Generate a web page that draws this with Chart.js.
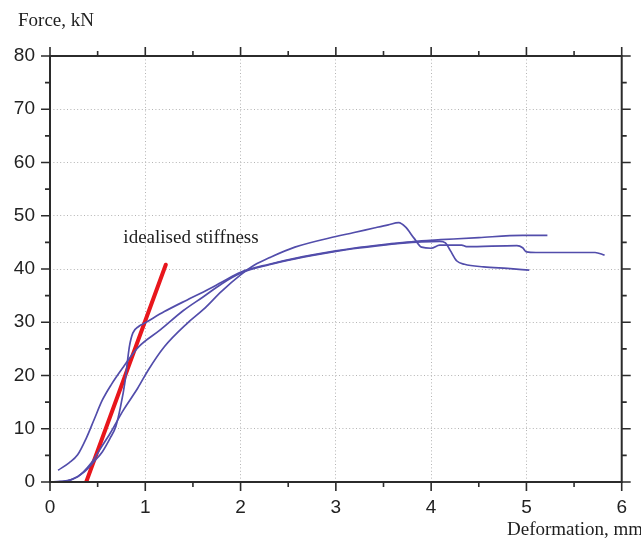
<!DOCTYPE html>
<html>
<head>
<meta charset="utf-8">
<title>Force vs deformation</title>
<script src="https://cdn.jsdelivr.net/npm/chart.js@4.4.1/dist/chart.umd.min.js"></script>
<style>
  html, body { margin: 0; padding: 0; background: #fff; }
  #wrap { width: 641px; height: 542px; }
</style>
</head>
<body>
<div id="wrap"><canvas id="forceChart" width="641" height="542"></canvas></div>
<script>
// === 1) Data (x = mm, y = kN) ===
const xTicks = [0, 1, 2, 3, 4, 5, 6];
const yTicks = [0, 10, 20, 30, 40, 50, 60, 70, 80];

// early riser, ends with the drop to ~40 kN
const testA_x = [0.085, 0.2, 0.29, 0.38, 0.46, 0.55, 0.64, 0.77, 0.92, 1.16, 1.4, 1.61, 1.8, 2.0, 2.3, 2.57, 3.0, 3.18, 3.5, 3.67, 3.9, 4.09, 4.15, 4.2, 4.27, 4.35, 4.55, 4.8, 5.03];
const testA_y = [2.2, 3.6, 5.1, 8.2, 11.6, 15.4, 18.2, 21.6, 25.2, 28.6, 32.2, 34.8, 37.2, 39.2, 40.8, 41.9, 43.3, 43.8, 44.5, 44.8, 45.1, 45.2, 44.9, 43.5, 41.5, 40.9, 40.4, 40.1, 39.8];

// curve with the kink near 30 kN, ends at ~46 kN
const testB_x = [0, 0.1, 0.22, 0.36, 0.46, 0.55, 0.63, 0.69, 0.74, 0.79, 0.815, 0.835, 0.87, 0.93, 1.0, 1.2, 1.44, 1.61, 1.8, 2.0, 2.3, 2.57, 3.0, 3.18, 3.5, 3.67, 3.9, 4.1, 4.5, 4.96, 5.22];
const testB_y = [0, 0.1, 0.4, 1.9, 3.8, 5.7, 8.2, 10.4, 14.1, 19.2, 23, 25.6, 28, 29.2, 29.9, 32, 34.2, 35.7, 37.5, 39.4, 40.9, 42, 43.4, 43.9, 44.6, 44.9, 45.3, 45.5, 45.9, 46.3, 46.3];

// late riser, peak ~49 kN then steps down
const testC_x = [0, 0.05, 0.29, 0.43, 0.53, 0.63, 0.77, 0.92, 1.03, 1.2, 1.44, 1.61, 1.8, 2.0, 2.15, 2.3, 2.57, 3.0, 3.18, 3.4, 3.55, 3.66, 3.73, 3.82, 3.9, 4.0, 4.09, 4.32, 4.37, 4.9, 4.96, 5.0, 5.1, 5.72, 5.82];
const testC_y = [0, 0, 1, 3.5, 6.3, 9.1, 13.5, 17.6, 21, 25.4, 29.8, 32.4, 35.8, 38.9, 40.8, 42.1, 44.1, 46.1, 46.8, 47.7, 48.3, 48.7, 47.9, 45.8, 44.1, 43.9, 44.5, 44.5, 44.2, 44.4, 44, 43.2, 43.1, 43.1, 42.6];

// idealised stiffness line
const stiff_x = [0.38, 1.215];
const stiff_y = [0, 40.8];

// tiny stub at the origin
const stub_x = [0, 0];
const stub_y = [0, 2.6];

const noteLabel = 'idealised stiffness';
const notePos   = [0.77, 44.9];

// === 2) Helpers ===
const toPts = (xs, ys) => xs.map((x, i) => ({ x, y: ys[i] }));

const curveColor = '#524dab';
const frameColor = '#2b2b2b';
const sansFont   = "'Liberation Sans', Arial, sans-serif";
const serifFont  = "'Liberation Serif', 'Times New Roman', serif";

// frame + outward ticks (major and minor) on all four sides
const framePlugin = {
  id: 'frame',
  afterDraw(chart){
    const { ctx, chartArea: a, scales } = chart;
    const xs = scales.x, ys = scales.y;
    ctx.save();
    ctx.strokeStyle = frameColor;
    ctx.lineWidth = 2;
    ctx.strokeRect(a.left, a.top, a.right - a.left, a.bottom - a.top);
    ctx.lineWidth = 1.6;
    ctx.beginPath();
    for (let v = 0; v <= 6.001; v += 0.5){
      const len = Math.abs(v - Math.round(v)) < 1e-6 ? 9 : 5;
      const px = xs.getPixelForValue(v);
      ctx.moveTo(px, a.bottom); ctx.lineTo(px, a.bottom + len);
      ctx.moveTo(px, a.top);    ctx.lineTo(px, a.top - len);
    }
    for (let v = 0; v <= 80.001; v += 5){
      const len = v % 10 === 0 ? 9 : 5;
      const py = ys.getPixelForValue(v);
      ctx.moveTo(a.left, py);  ctx.lineTo(a.left - len, py);
      ctx.moveTo(a.right, py); ctx.lineTo(a.right + len, py);
    }
    ctx.stroke();

    // texts
    ctx.fillStyle = '#1e1e1e';
    ctx.textBaseline = 'alphabetic';
    ctx.textAlign = 'left';
    ctx.font = `19px ${serifFont}`;
    ctx.fillText('Force, kN', 18, 26);
    ctx.fillText('Deformation, mm', 507, 535);
    ctx.fillText(noteLabel, xs.getPixelForValue(notePos[0]), ys.getPixelForValue(notePos[1]));
    ctx.restore();
  }
};

// === 3) Chart ===
const curveDs = (label, xs, ys) => ({
  label, data: toPts(xs, ys), showLine: true, pointRadius: 0,
  borderColor: curveColor, borderWidth: 1.7, cubicInterpolationMode: 'monotone'
});

new Chart(document.getElementById('forceChart'), {
  type: 'scatter',
  data: {
    datasets: [
      curveDs('Test A', testA_x, testA_y),
      curveDs('Test B', testB_x, testB_y),
      curveDs('Test C', testC_x, testC_y),
      { label: 'idealised stiffness', data: toPts(stiff_x, stiff_y), showLine: true, pointRadius: 0,
        borderColor: '#e8161c', borderWidth: 4, borderCapStyle: 'round' },
      { label: 'stub', data: toPts(stub_x, stub_y), showLine: true, pointRadius: 0,
        borderColor: '#8c3a3a', borderWidth: 1.5 }
    ]
  },
  options: {
    responsive: false,
    animation: false,
    devicePixelRatio: 1,
    layout: { padding: { top: 56, right: 7, left: 0, bottom: 0 } },
    plugins: { legend: { display: false }, tooltip: { enabled: false } },
    scales: {
      x: {
        type: 'linear', min: 0, max: 6,
        afterFit: s => { s.height = 60; },
        afterBuildTicks: s => { s.ticks = xTicks.map(v => ({ value: v })); },
        grid: { color: '#b4b4b4', lineWidth: 1, drawTicks: false },
        border: { display: false, dash: [1, 2.4] },
        ticks: { color: '#222', padding: 14, font: { family: sansFont, size: 19 }, maxRotation: 0 }
      },
      y: {
        type: 'linear', min: 0, max: 80,
        afterFit: s => { s.width = 50; },
        afterBuildTicks: s => { s.ticks = yTicks.map(v => ({ value: v })); },
        grid: { color: '#b4b4b4', lineWidth: 1, drawTicks: false },
        border: { display: false, dash: [1, 2.4] },
        ticks: { color: '#222', padding: 15, font: { family: sansFont, size: 19 } }
      }
    }
  },
  plugins: [framePlugin]
});
</script>
</body>
</html>
